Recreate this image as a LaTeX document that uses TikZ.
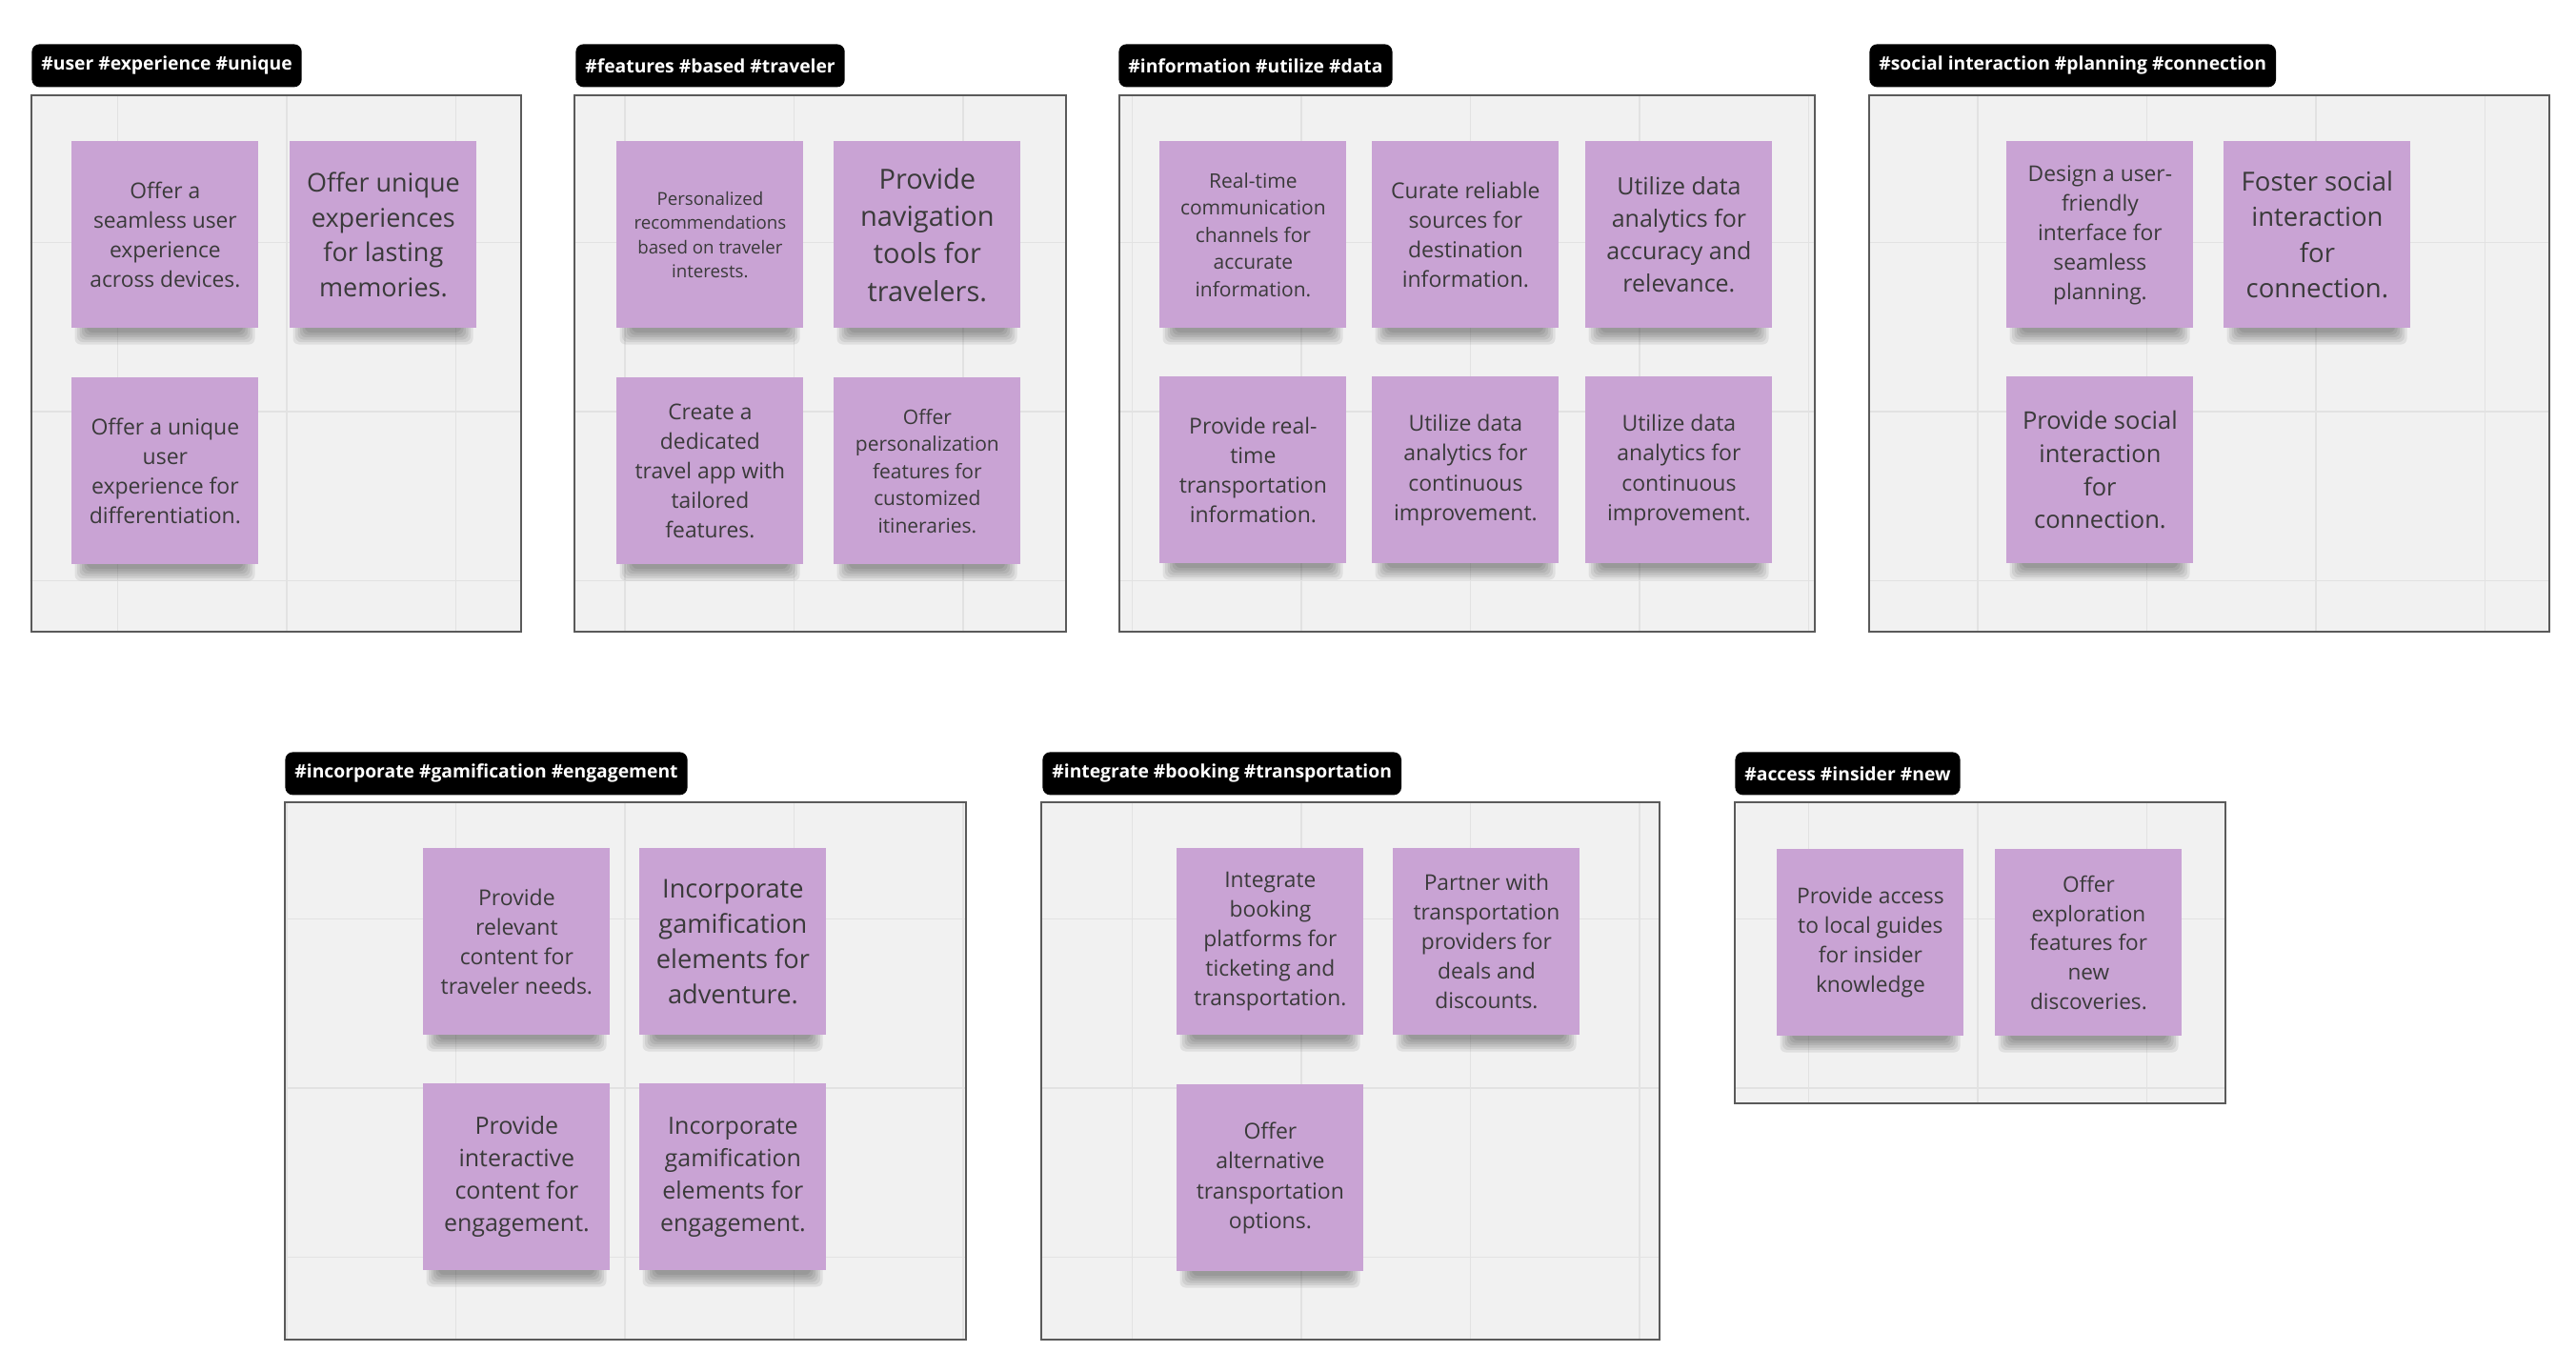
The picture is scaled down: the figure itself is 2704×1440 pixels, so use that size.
\documentclass[tikz,border=0pt]{standalone}
\usepackage{fontspec}
\setmainfont{Open Sans}
\definecolor{stk}{HTML}{C9A3D4}
\definecolor{bgf}{HTML}{F1F1F1}
\definecolor{grd}{HTML}{E2E2E2}
\definecolor{fbd}{HTML}{5A5A5A}
\definecolor{txt}{HTML}{3A3A3A}
\newcommand\fz[1]{\fontsize{#1pt}{\dimexpr #1pt*136/100\relax}\selectfont}
\newcommand\frm[5]{%
  \fill[bgf] (#2,#3) rectangle (#4,#5);
  \begin{scope}
    \clip (#2,#3) rectangle (#4,#5);
    \foreach \gx in {123.5,301,...,2700} \draw[grd,line width=0.8pt] (\gx,0) -- (\gx,1440);
    \foreach \gy in {77,254.5,...,1440} \draw[grd,line width=0.8pt] (0,\gy) -- (2704,\gy);
  \end{scope}
  \node[draw=fbd, line width=1pt, inner sep=0pt, anchor=north west,
        minimum width={(#4-#2)*0.5}, minimum height={(#5-#3)*0.5}] (#1) at (#2,#3) {};
}
\newcommand\shd[2]{%
  \foreach \i in {0,...,5}{%
    \fill[black,opacity=0.07,rounded corners=3pt] ({#1+16-2.5*\i},{#2+186}) rectangle ({#1+180+2.5*\i},{#2+201+2.5*\i});
  }%
}
\begin{document}
\begin{tikzpicture}[x=0.5pt,y=-0.5pt,
  stickynote/.style={rectangle, fill=stk, minimum width=98pt, minimum height=98pt, inner sep=0pt, align=center, text=txt, anchor=north west},
  taglabel/.style={rectangle, fill=black, text=white, rounded corners=4pt, anchor=north west, minimum height=22.5pt, inner xsep=5pt, inner ysep=0pt, font={\bfseries\fontsize{9.65pt}{11.5pt}\selectfont}}]
\useasboundingbox (0,0) rectangle (2704,1440);
\fill[white] (0,0) rectangle (2704,1440);

% frames
\frm{f1}{31.5}{99}{546}{662}
\frm{f2}{602}{99}{1118}{662}
\frm{f3}{1173.5}{99}{1904}{662}
\frm{f4}{1961}{99}{2675}{662}
\frm{f5}{298}{841}{1013}{1405}
\frm{f6}{1092}{841}{1741}{1405}
\frm{f7}{1820}{841}{2335}{1157}

% labels
\node[taglabel] (l1) at (33,46) {\#user \#experience \#unique};
\node[taglabel] (l2) at (604,46) {\#features \#based \#traveler};
\node[taglabel] (l3) at (1174,46) {\#information \#utilize \#data};
\node[taglabel] (l4) at (1962,46) {\#social interaction \#planning \#connection};
\node[taglabel] (l5) at (299,789) {\#incorporate \#gamification \#engagement};
\node[taglabel] (l6) at (1094,789) {\#integrate \#booking \#transportation};
\node[taglabel] (l7) at (1821,789) {\#access \#insider \#new};

% shadows
\shd{75}{148}\shd{304}{148}\shd{75}{396}
\shd{647}{148}\shd{875}{148}\shd{647}{396}\shd{875}{396}
\shd{1217}{148}\shd{1440}{148}\shd{1664}{148}\shd{1217}{395}\shd{1440}{395}\shd{1664}{395}
\shd{2106}{148}\shd{2334}{148}\shd{2106}{395}
\shd{444}{890}\shd{671}{890}\shd{444}{1137}\shd{671}{1137}
\shd{1235}{890}\shd{1462}{890}\shd{1235}{1138}
\shd{1865}{891}\shd{2094}{891}

% frame 1
\node[stickynote, font={\fz{11.4}}] (a1) at (75,148) {Offer a\\seamless user\\experience\\across devices.};
\node[stickynote, font={\fz{13.5}}] (a2) at (304,148) {Offer unique\\experiences\\for lasting\\memories.};
\node[stickynote, font={\fz{11.5}}] (a3) at (75,396) {Offer a unique\\user\\experience for\\differentiation.};
% frame 2
\node[stickynote, font={\fz{9.35}}] (b1) at (647,148) {Personalized\\recommendations\\based on traveler\\interests.};
\node[stickynote, font={\fz{14.5}}] (b2) at (875,148) {Provide\\navigation\\tools for\\travelers.};
\node[stickynote, font={\fz{11.4}}] (b3) at (647,396) {Create a\\dedicated\\travel app with\\tailored\\features.};
\node[stickynote, font={\fz{10.5}}] (b4) at (875,396) {Offer\\personalization\\features for\\customized\\itineraries.};
% frame 3
\node[stickynote, font={\fz{10.5}}] (c1) at (1217,148) {Real-time\\communication\\channels for\\accurate\\information.};
\node[stickynote, font={\fz{11.5}}] (c2) at (1440,148) {Curate reliable\\sources for\\destination\\information.};
\node[stickynote, font={\fz{12.5}}] (c3) at (1664,148) {Utilize data\\analytics for\\accuracy and\\relevance.};
\node[stickynote, font={\fz{11.5}}] (c4) at (1217,395) {Provide real-\\time\\transportation\\information.};
\node[stickynote, font={\fz{11.5}}] (c5) at (1440,395) {Utilize data\\analytics for\\continuous\\improvement.};
\node[stickynote, font={\fz{11.5}}] (c6) at (1664,395) {Utilize data\\analytics for\\continuous\\improvement.};
% frame 4
\node[stickynote, font={\fz{11.4}}] (d1) at (2106,148) {Design a user-\\friendly\\interface for\\seamless\\planning.};
\node[stickynote, font={\fz{13.75}}] (d2) at (2334,148) {Foster social\\interaction\\for\\connection.};
\node[stickynote, font={\fz{12.75}}] (d3) at (2106,395) {Provide social\\interaction\\for\\connection.};
% frame 5
\node[stickynote, font={\fz{11.5}}] (e1) at (444,890) {Provide\\relevant\\content for\\traveler needs.};
\node[stickynote, font={\fz{13.6}}] (e2) at (671,890) {Incorporate\\gamification\\elements for\\adventure.};
\node[stickynote, font={\fz{12.5}}] (e3) at (444,1137) {Provide\\interactive\\content for\\engagement.};
\node[stickynote, font={\fz{12.5}}] (e4) at (671,1137) {Incorporate\\gamification\\elements for\\engagement.};
% frame 6
\node[stickynote, font={\fz{11.4}}] (g1) at (1235,890) {Integrate\\booking\\platforms for\\ticketing and\\transportation.};
\node[stickynote, font={\fz{11.4}}] (g2) at (1462,890) {Partner with\\transportation\\providers for\\deals and\\discounts.};
\node[stickynote, font={\fz{11.5}}] (g3) at (1235,1138) {Offer\\alternative\\transportation\\options.};
% frame 7
\node[stickynote, font={\fz{11.4}}] (h1) at (1865,891) {Provide access\\to local guides\\for insider\\knowledge};
\node[stickynote, font={\fz{11.3}}] (h2) at (2094,891) {Offer\\exploration\\features for\\new\\discoveries.};
\end{tikzpicture}
\end{document}
